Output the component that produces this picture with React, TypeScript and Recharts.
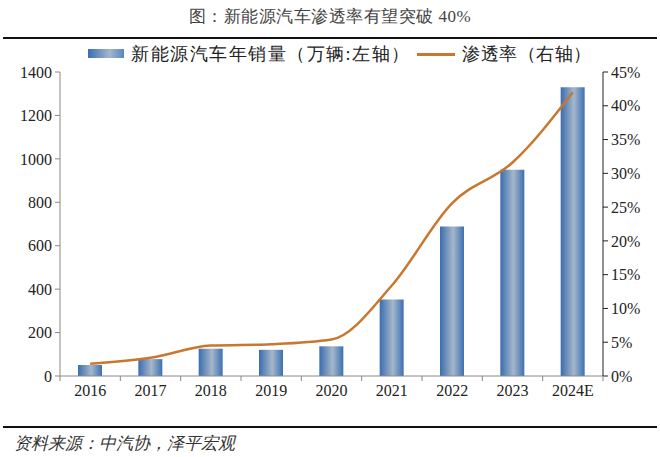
import React from 'react';
import { ComposedChart, Bar, Line, XAxis, YAxis } from 'recharts';

const years = ['2016', '2017', '2018', '2019', '2020', '2021', '2022', '2023', '2024E'];
const sales = [50.7, 77.7, 125.6, 120.6, 136.7, 352.1, 688.7, 949.5, 1330];
const penetration = [1.8, 2.7, 4.5, 4.7, 5.4, 13.4, 25.6, 31.6, 42];
const salesTicks = [0, 200, 400, 600, 800, 1000, 1200, 1400];
const rateTicks = [0, 5, 10, 15, 20, 25, 30, 35, 40, 45];

const data = years.map((year, i) => ({ year, sales: sales[i], rate: penetration[i] }));

const W = 660;
const H = 457;
const LEFT = 60;
const RIGHT = 57;
const STEP = (W - LEFT - RIGHT) / years.length;
const serif = 'Liberation Serif';

function YearTick(props: any) {
  const { x, y, payload, index } = props;
  const left = x - STEP / 2;
  return (
    <g>
      <line x1={left} y1={y - 8} x2={left} y2={y - 3} stroke="#888" />
      {index === years.length - 1 && (
        <line x1={left + STEP} y1={y - 8} x2={left + STEP} y2={y - 3} stroke="#888" />
      )}
      <text x={x} y={y + 12} textAnchor="middle" fontSize={16} fill="#222" fontFamily={serif}>
        {payload.value}
      </text>
    </g>
  );
}

export default function App() {
  return (
    <div style={{ position: 'absolute', left: 0, top: 0, width: W, height: H, background: '#fff' }}>
      <div style={{ position: 'absolute', left: 0, width: W, top: 5, textAlign: 'center', fontSize: 17, letterSpacing: 0.5, color: '#444', fontFamily: serif }}>
        图：新能源汽车渗透率有望突破 40%
      </div>
      <div style={{ position: 'absolute', left: 3, right: 3, top: 37, height: 2, background: '#111' }} />
      <div style={{ position: 'absolute', left: 0, top: 42, width: W, height: 24, fontFamily: serif, fontSize: 18, color: '#222' }}>
        <div style={{ position: 'absolute', left: 88, top: 7, width: 36, height: 9, background: 'linear-gradient(90deg, #3b6fb0, #a2b6cb 60%, #5a86bd)' }} />
        <div style={{ position: 'absolute', left: 131, top: 0, whiteSpace: 'nowrap', letterSpacing: 1.5 }}>新能源汽车年销量（万辆:左轴）</div>
        <div style={{ position: 'absolute', left: 417, top: 11, width: 38, height: 3, background: '#c8772f' }} />
        <div style={{ position: 'absolute', left: 462, top: 0, whiteSpace: 'nowrap', letterSpacing: 0.5 }}>渗透率（右轴）</div>
      </div>
      <div style={{ position: 'absolute', top: 0, left: 0 }}>
        <ComposedChart width={W} height={H} data={data} margin={{ top: 72, right: 0, bottom: 51, left: 0 }}>
          <defs>
            <linearGradient id="barFill" x1="0" y1="0" x2="1" y2="0">
              <stop offset="0%" stopColor="#3a6daf" />
              <stop offset="55%" stopColor="#a5b7ca" />
              <stop offset="100%" stopColor="#3c70b2" />
            </linearGradient>
          </defs>
          <XAxis
            dataKey="year"
            height={30}
            stroke="#888"
            tickLine={false}
            tick={<YearTick />}
            interval={0}
          />
          <YAxis
            yAxisId="left"
            width={LEFT}
            domain={[0, 1400]}
            ticks={salesTicks}
            stroke="#888"
            tickSize={5}
            tickMargin={3}
            tick={{ fontSize: 16, fill: '#222', fontFamily: serif }}
          />
          <YAxis
            yAxisId="right"
            orientation="right"
            width={RIGHT}
            domain={[0, 45]}
            ticks={rateTicks}
            stroke="#222"
            tickSize={5}
            tickMargin={3}
            tickFormatter={(v) => `${v}%`}
            tick={{ fontSize: 16, fill: '#222', textAnchor: 'start', fontFamily: serif }}
          />
          <Bar yAxisId="left" dataKey="sales" barSize={24} fill="url(#barFill)" isAnimationActive={false} />
          <Line
            yAxisId="right"
            type="monotone"
            dataKey="rate"
            stroke="#c8772f"
            strokeWidth={2.5}
            dot={false}
            activeDot={false}
            isAnimationActive={false}
          />
        </ComposedChart>
      </div>
      <div style={{ position: 'absolute', left: 3, right: 3, top: 426, height: 2, background: '#111' }} />
      <div style={{ position: 'absolute', left: 14, top: 432, fontSize: 17, fontStyle: 'italic', color: '#333', fontFamily: serif, whiteSpace: 'nowrap' }}>
        资料来源：中汽协，泽平宏观
      </div>
    </div>
  );
}
